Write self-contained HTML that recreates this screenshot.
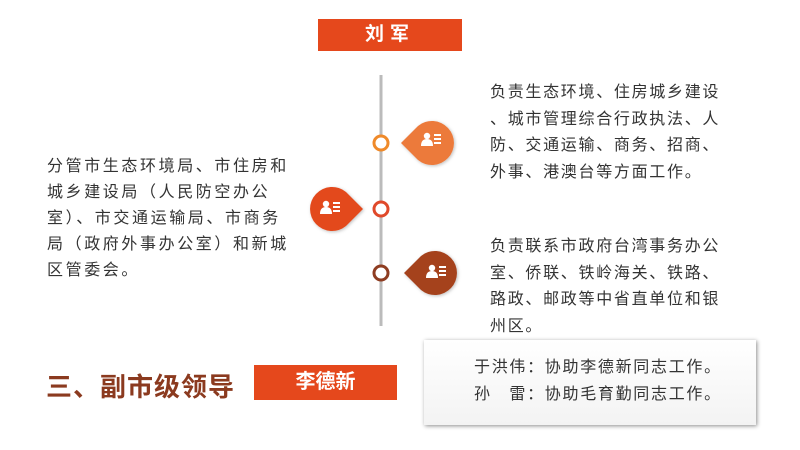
<!DOCTYPE html>
<html><head><meta charset="utf-8"><style>
body{margin:0;width:800px;height:450px;background:#fff;position:relative;overflow:hidden;font-family:"Liberation Sans","Noto Sans CJK SC",sans-serif;}
.t{position:absolute;font-size:16px;color:#333;line-height:26.5px;white-space:nowrap;letter-spacing:1.7px}
</style></head><body>
<div style="position:absolute;left:318px;top:19px;width:144px;height:32px;background:#e5481c;color:#fff;font-size:19px;font-weight:bold;text-align:center;line-height:32px;letter-spacing:6px">刘军</div>
<svg width="800" height="450" style="position:absolute;left:0;top:0">
<defs><filter id="s" x="-30%" y="-30%" width="160%" height="160%"><feDropShadow dx="1" dy="1" stdDeviation="1.5" flood-opacity="0.25"/></filter>
<g id="ic" fill="#fff"><circle cx="-4" cy="-4" r="3.2"/><path d="M-10 6 Q-10 -1 -4 -1 Q2 -1 2 6Z"/><rect x="3" y="-6" width="7" height="2"/><rect x="3" y="-2" width="7" height="2"/><rect x="3" y="2" width="7" height="2"/></g></defs>
<line x1="381" y1="75" x2="381" y2="326" stroke="#bbb" stroke-width="3"/>
<circle cx="381" cy="143" r="7" fill="#fff" stroke="#ef8a2a" stroke-width="3"/>
<circle cx="381" cy="209" r="7" fill="#fff" stroke="#e0492a" stroke-width="3"/>
<circle cx="381" cy="273" r="7" fill="#fff" stroke="#8e3d22" stroke-width="3"/>
<g filter="url(#s)">
<path d="M401 143 L418 126 A22 22 0 1 1 418 160 Z" fill="#ec7a3a"/>
<path d="M363 209 L346 192 A22 22 0 1 0 346 226 Z" fill="#e34a1f"/>
<path d="M404 273 L421 256 A22 22 0 1 1 421 290 Z" fill="#a5431f"/>
</g>
<use href="#ic" x="431" y="140"/>
<use href="#ic" x="330" y="208"/>
<use href="#ic" x="436" y="272"/>
</svg>
<div class="t" style="left:490px;top:80px">负责生态环境、住房城乡建设<br>、城市管理综合行政执法、人<br>防、交通运输、商务、招商、<br>外事、港澳台等方面工作。</div>
<div class="t" style="left:47px;top:154px;line-height:26px;letter-spacing:2.6px">分管市生态环境局、市住房和<br>城乡建设局（人民防空办公<br>室）、市交通运输局、市商务<br>局（政府外事办公室）和新城<br>区管委会。</div>
<div class="t" style="left:490px;top:234px">负责联系市政府台湾事务办公<br>室、侨联、铁岭海关、铁路、<br>路政、邮政等中省直单位和银<br>州区。</div>
<div style="position:absolute;left:46px;top:367px;font-size:26px;font-weight:bold;color:#8b3a1f;white-space:nowrap;letter-spacing:1px">三、副市级领导</div>
<div style="position:absolute;left:254px;top:365px;width:143px;height:35px;background:#e5481c;color:#fff;font-size:20px;font-weight:bold;text-align:center;line-height:35px">李德新</div>
<div style="position:absolute;left:424px;top:340px;width:332px;height:85px;background:linear-gradient(#fff,#f3f3f3);box-shadow:1px 1px 4px rgba(0,0,0,.45)"></div>
<div class="t" style="left:474px;top:355px">于洪伟：协助李德新同志工作。<br>孙　雷：协助毛育勤同志工作。</div>
</body></html>
